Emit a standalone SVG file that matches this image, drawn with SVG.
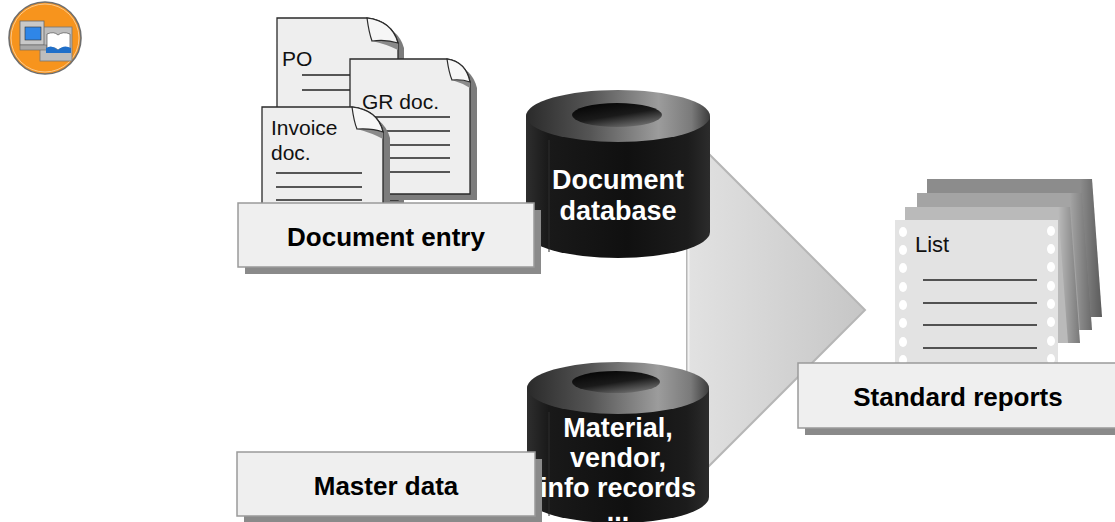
<svg xmlns="http://www.w3.org/2000/svg" width="1115" height="522" viewBox="0 0 1115 522">
  <style>
    .page { fill: #eeeeee; stroke: #2a2a2a; stroke-width: 1.3; }
    .pshadow { fill: #7c7c7c; }
    .flap { fill: #f6f6f6; stroke: #2a2a2a; stroke-width: 1.2; }
    .rule { stroke: #222; stroke-width: 1.3; }
    .doctxt { font-family: "Liberation Sans", Arial, sans-serif; font-size: 21px; fill: #111; }
    .box { fill: #efefef; stroke: #9a9a9a; stroke-width: 1.5; }
    .bshadow { fill: #8a8a8a; }
    .boxtxt { font-family: "Liberation Sans", Arial, sans-serif; font-size: 26px; font-weight: bold; fill: #000; text-anchor: middle; }
    .dbtxt { font-family: "Liberation Sans", Arial, sans-serif; font-size: 27px; font-weight: bold; fill: #fff; text-anchor: middle; }
    .hole { fill: #fff; }
  </style>
  <defs>
    <linearGradient id="chev" x1="0" y1="0" x2="1" y2="0">
      <stop offset="0" stop-color="#e2e2e2"/>
      <stop offset="1" stop-color="#c6c6c6"/>
    </linearGradient>
    <linearGradient id="body" x1="0" y1="0" x2="1" y2="0">
      <stop offset="0" stop-color="#2e2e2e"/>
      <stop offset="0.12" stop-color="#191919"/>
      <stop offset="0.55" stop-color="#101010"/>
      <stop offset="0.88" stop-color="#1c1c1c"/>
      <stop offset="1" stop-color="#2c2c2c"/>
    </linearGradient>
    <linearGradient id="top" x1="0" y1="0" x2="1" y2="0">
      <stop offset="0" stop-color="#2a2a2a"/>
      <stop offset="0.35" stop-color="#555"/>
      <stop offset="0.72" stop-color="#9c9c9c"/>
      <stop offset="0.9" stop-color="#7a7a7a"/>
      <stop offset="1" stop-color="#3c3c3c"/>
    </linearGradient>
    <linearGradient id="holeg" x1="0" y1="0" x2="0.6" y2="1">
      <stop offset="0" stop-color="#000"/>
      <stop offset="0.6" stop-color="#1a1a1a"/>
      <stop offset="1" stop-color="#666"/>
    </linearGradient>
    <linearGradient id="strip" x1="0" y1="0" x2="1" y2="0">
      <stop offset="0" stop-color="#000" stop-opacity="0"/>
      <stop offset="1" stop-color="#000" stop-opacity="0.35"/>
    </linearGradient>
  </defs>

  <!-- badge icon, top left -->
  <g id="badge">
    <circle cx="45" cy="38" r="36" fill="#f7941d" stroke="#6e6e6e" stroke-width="1.6"/>
    <circle cx="45" cy="38" r="34" fill="none" stroke="#fbd6a8" stroke-width="0.8"/>
    <rect x="40" y="27" width="32" height="34" fill="#bdbdbd" stroke="#777" stroke-width="0.8"/>
    <rect x="20" y="21" width="24" height="24" fill="#c8c8c8" stroke="#666" stroke-width="0.8"/>
    <rect x="25" y="27" width="16" height="13" fill="#2f86e8" stroke="#333" stroke-width="0.6"/>
    <rect x="20" y="45" width="27" height="5" fill="#a8a8a8" stroke="#666" stroke-width="0.6"/>
    <path d="M47,34 Q54,31 58,35 Q63,31 70,34 V49 Q63,46 58,50 Q54,46 47,49 Z" fill="#fff" stroke="#555" stroke-width="0.7"/>
    <path d="M46,48 Q52,44 58,50 Q64,44 71,48 L71,53 H46 Z" fill="#1f6fc9"/>
  </g>

  <!-- connector: broad flow arrow into the reports -->
  <g id="connectors">
    <path d="M687,132 L865,310 L687,488 Z" fill="url(#chev)" stroke="#b6b6b6" stroke-width="2"/>
    <line x1="688.5" y1="134" x2="688.5" y2="486" stroke="#f2f2f2" stroke-width="2"/>
  </g>

  <!-- document database -->
  <g id="document-database">
    <path d="M526,116 V232 A92,26 0 0 0 710,232 V116 Z" fill="url(#body)"/>
    <line x1="549" y1="140" x2="549" y2="252" stroke="#2f2f2f" stroke-width="1"/>
    <ellipse cx="618" cy="116" rx="92" ry="26" fill="url(#top)"/>
    <ellipse cx="617" cy="115" rx="45" ry="12" fill="url(#holeg)"/>
    <text class="dbtxt" x="618" y="189">Document</text>
    <text class="dbtxt" x="618" y="220">database</text>
  </g>

  <!-- master data store -->
  <g id="master-database">
    <path d="M527,388 V497 A91,26 0 0 0 709,497 V388 Z" fill="url(#body)"/>
    <line x1="549" y1="412" x2="549" y2="516" stroke="#2f2f2f" stroke-width="1"/>
    <ellipse cx="618" cy="388" rx="91" ry="26" fill="url(#top)"/>
    <ellipse cx="616" cy="382" rx="44" ry="11" fill="url(#holeg)"/>
    <text class="dbtxt" x="618" y="437">Material,</text>
    <text class="dbtxt" x="618" y="467">vendor,</text>
    <text class="dbtxt" x="618" y="497">info records</text>
    <text class="dbtxt" x="618" y="521">...</text>
  </g>

  <!-- source documents -->
  <g id="po-doc">
    <path class="pshadow" d="M283,23 H373 Q398,27 404,48 V205 H283 Z"/>
    <path class="page" d="M277,18 H367 Q392,21 398,43 V200 H277 Z"/>
    <path d="M372,41 Q386,39 398,43 L398,50 Q386,44 372,41 Z" fill="#8a8a8a"/>
    <path class="flap" d="M367,18 Q369,33 372,41 Q386,39 398,43 Q392,21 367,18 Z"/>
    <text class="doctxt" x="282" y="66">PO</text>
    <line class="rule" x1="302" y1="75" x2="352" y2="75"/>
    <line class="rule" x1="302" y1="90" x2="352" y2="90"/>
  </g>
  <g id="gr-doc">
    <path class="pshadow" d="M356,65 H453 Q472,68 477,88 V200 H356 Z"/>
    <path class="page" d="M350,59 H447 Q466,62 470,82 V194 H350 Z"/>
    <path d="M452,80 Q462,79 470,82 L470,88 Q462,83 452,80 Z" fill="#8a8a8a"/>
    <path class="flap" d="M447,59 Q449,73 452,80 Q462,79 470,82 Q466,62 447,59 Z"/>
    <text class="doctxt" x="362" y="109">GR doc.</text>
    <line class="rule" x1="365" y1="117" x2="450" y2="117"/>
    <line class="rule" x1="365" y1="131" x2="450" y2="131"/>
    <line class="rule" x1="365" y1="145" x2="450" y2="145"/>
    <line class="rule" x1="365" y1="158" x2="450" y2="158"/>
    <line class="rule" x1="365" y1="172" x2="450" y2="172"/>
  </g>
  <g id="invoice-doc">
    <path class="pshadow" d="M268,113 H358 Q384,116 390,138 V210 H268 Z"/>
    <path class="page" d="M262,107 H352 Q378,110 383,132 V210 H262 Z"/>
    <path d="M357,129 Q372,128 383,132 L383,139 Q372,133 357,129 Z" fill="#8a8a8a"/>
    <path class="flap" d="M352,107 Q354,122 357,129 Q372,128 383,132 Q378,110 352,107 Z"/>
    <text class="doctxt" x="271" y="135">Invoice</text>
    <text class="doctxt" x="271" y="160">doc.</text>
    <line class="rule" x1="276" y1="173" x2="362" y2="173"/>
    <line class="rule" x1="276" y1="187" x2="362" y2="187"/>
    <line class="rule" x1="276" y1="200" x2="362" y2="200"/>
  </g>

  <!-- labelled boxes -->
  <g id="document-entry">
    <rect class="bshadow" x="245" y="210" width="296" height="64"/>
    <rect class="box" x="238" y="203" width="296" height="64"/>
    <text class="boxtxt" x="386" y="246">Document entry</text>
  </g>
  <g id="master-data">
    <rect class="bshadow" x="244" y="459" width="298" height="64"/>
    <rect class="box" x="237" y="452" width="298" height="64"/>
    <text class="boxtxt" x="386" y="495">Master data</text>
  </g>

  <!-- stack of printed lists -->
  <g id="list-stack">
    <path d="M927,179 H1092 L1102,317 H927 Z" fill="#8c8c8c"/>
    <path d="M1080,179 H1092 L1102,317 H1090 Z" fill="url(#strip)"/>
    <path d="M917,193 H1082 L1092,330 H917 Z" fill="#a4a4a4"/>
    <path d="M1070,193 H1082 L1092,330 H1080 Z" fill="url(#strip)"/>
    <path d="M905,207 H1070 L1080,343 H905 Z" fill="#bababa"/>
    <path d="M1058,207 H1070 L1080,343 H1068 Z" fill="url(#strip)"/>
    <rect x="895" y="220" width="163" height="150" fill="#e3e3e3"/>
    <g class="hole">
      <ellipse cx="903" cy="232" rx="4" ry="5"/>
      <ellipse cx="903" cy="250" rx="4" ry="5"/>
      <ellipse cx="903" cy="268" rx="4" ry="5"/>
      <ellipse cx="903" cy="287" rx="4" ry="5"/>
      <ellipse cx="903" cy="305" rx="4" ry="5"/>
      <ellipse cx="903" cy="323" rx="4" ry="5"/>
      <ellipse cx="903" cy="342" rx="4" ry="5"/>
      <ellipse cx="903" cy="360" rx="4" ry="5"/>
      <ellipse cx="1051" cy="231" rx="4" ry="5"/>
      <ellipse cx="1051" cy="249" rx="4" ry="5"/>
      <ellipse cx="1051" cy="267" rx="4" ry="5"/>
      <ellipse cx="1051" cy="286" rx="4" ry="5"/>
      <ellipse cx="1051" cy="304" rx="4" ry="5"/>
      <ellipse cx="1051" cy="322" rx="4" ry="5"/>
      <ellipse cx="1051" cy="341" rx="4" ry="5"/>
      <ellipse cx="1051" cy="359" rx="4" ry="5"/>
    </g>
    <text x="915" y="252" font-family="Liberation Sans, Arial, sans-serif" font-size="22" fill="#111">List</text>
    <line class="rule" x1="923" y1="280" x2="1037" y2="280"/>
    <line class="rule" x1="923" y1="303" x2="1037" y2="303"/>
    <line class="rule" x1="923" y1="325" x2="1037" y2="325"/>
    <line class="rule" x1="923" y1="348" x2="1037" y2="348"/>
  </g>
  <g id="standard-reports">
    <rect class="bshadow" x="805" y="370" width="320" height="65"/>
    <rect class="box" x="798" y="363" width="330" height="65"/>
    <text class="boxtxt" x="958" y="406">Standard reports</text>
  </g>
</svg>
